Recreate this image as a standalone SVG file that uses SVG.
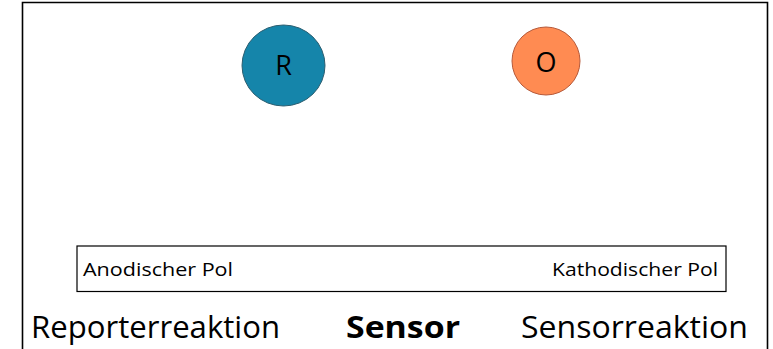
<svg xmlns="http://www.w3.org/2000/svg" width="773" height="349" viewBox="0 0 773 349">
  <style>
    .lbl { font-family: "Open Sans", "Noto Sans", "Liberation Sans", sans-serif; fill: #000; }
    .pole { font-size: 17.5px; }
    .big { font-size: 31px; }
    .node { font-size: 27px; text-anchor: middle; }
  </style>
  <rect x="0" y="0" width="773" height="349" fill="#ffffff"/>
  <!-- outer frame (open at the bottom) -->
  <path d="M22.5,352 V2.5 H767.5 V352" fill="none" stroke="#000" stroke-width="1.6"/>

  <g id="node-R">
    <ellipse cx="283.5" cy="65.5" rx="41.5" ry="40.5" fill="#1585AA" stroke="#2C5E70" stroke-width="1"/>
    <text class="lbl node" x="283.5" y="75">R</text>
  </g>

  <g id="node-O">
    <ellipse cx="546" cy="61" rx="34" ry="34" fill="#FF8B52" stroke="#B65A3A" stroke-width="1"/>
    <text class="lbl node" x="546" y="71.5">O</text>
  </g>

  <g id="sensor-bar">
    <rect x="77" y="246" width="649" height="45.5" fill="#ffffff" stroke="#000" stroke-width="1.2"/>
    <text class="lbl pole" x="83" y="276" textLength="150" lengthAdjust="spacingAndGlyphs">Anodischer Pol</text>
    <text class="lbl pole" x="552" y="276" textLength="166" lengthAdjust="spacingAndGlyphs">Kathodischer Pol</text>
  </g>

  <g id="captions">
    <text class="lbl big" x="31" y="337.5" textLength="249" lengthAdjust="spacingAndGlyphs">Reporterreaktion</text>
    <text class="lbl big" x="346" y="337.5" font-weight="bold" textLength="114" lengthAdjust="spacingAndGlyphs">Sensor</text>
    <text class="lbl big" x="521" y="337.5" textLength="227" lengthAdjust="spacingAndGlyphs">Sensorreaktion</text>
  </g>

  <g id="connectors"/>
</svg>
